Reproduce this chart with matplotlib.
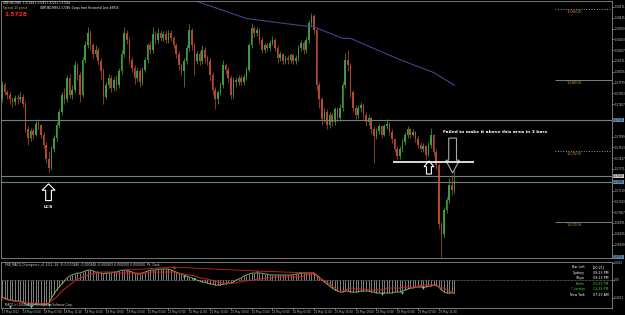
import numpy as np
import matplotlib
matplotlib.use('Agg')
import matplotlib.pyplot as plt
from matplotlib.patches import FancyArrow
import matplotlib.transforms as mtransforms

# GBPUSD M30 candles
opens = [1.5786,1.5796,1.5791,1.5789,1.5786,1.5784,1.5787,1.5786,1.5788,1.5783,
         1.5765,1.5759,1.5764,1.5761,1.5769,1.5768,1.5761,1.5754,1.5744,1.5738,
         1.5751,1.5759,1.5768,1.5777,1.5789,1.5786,1.5801,1.5789,1.5793,1.5810,
         1.5803,1.5789,1.5814,1.5824,1.5833,1.5824,1.5818,1.5821,1.5813,1.5806,
         1.5788,1.5796,1.5801,1.5794,1.5800,1.5796,1.5806,1.5818,1.5833,1.5828,
         1.5814,1.5808,1.5801,1.5806,1.5798,1.5807,1.5814,1.5824,1.5821,1.5832,
         1.5828,1.5833,1.5829,1.5832,1.5828,1.5833,1.5829,1.5824,1.5818,1.5810,
         1.5806,1.5813,1.5822,1.5835,1.5824,1.5813,1.5818,1.5813,1.5821,1.5815,
         1.5813,1.5803,1.5793,1.5786,1.5791,1.5796,1.5810,1.5807,1.5801,1.5789,
         1.5800,1.5798,1.5801,1.5798,1.5802,1.5807,1.5824,1.5836,1.5833,1.5835,
         1.5828,1.5821,1.5824,1.5822,1.5826,1.5828,1.5822,1.5815,1.5818,1.5813,
         1.5815,1.5814,1.5817,1.5813,1.5815,1.5822,1.5826,1.5821,1.5828,1.5840,
         1.5845,1.5835,1.5796,1.5786,1.5772,1.5777,1.5768,1.5775,1.5770,1.5779,
         1.5773,1.5780,1.5796,1.5814,1.5810,1.5791,1.5780,1.5775,1.5780,1.5782,
         1.5775,1.5770,1.5773,1.5765,1.5760,1.5764,1.5767,1.5761,1.5767,1.5769,
         1.5763,1.5758,1.5751,1.5746,1.5751,1.5756,1.5761,1.5765,1.5761,1.5763,
         1.5758,1.5754,1.5751,1.5753,1.5747,1.5754,1.5761,1.5749,1.5740,1.5698,
         1.5691,1.5708,1.5715,1.5726,1.5722]
highs = [1.5799,1.5798,1.5793,1.5791,1.5788,1.5789,1.5790,1.5791,1.5790,1.5785,
         1.5767,1.5766,1.5766,1.5771,1.5772,1.5769,1.5763,1.5756,1.5750,1.5753,
         1.5761,1.5770,1.5779,1.5791,1.5794,1.5803,1.5804,1.5796,1.5813,1.5812,
         1.5805,1.5816,1.5827,1.5837,1.5835,1.5826,1.5824,1.5823,1.5815,1.5808,
         1.5798,1.5804,1.5803,1.5802,1.5803,1.5808,1.5821,1.5837,1.5835,1.5830,
         1.5816,1.5810,1.5808,1.5808,1.5809,1.5816,1.5826,1.5827,1.5837,1.5834,
         1.5836,1.5835,1.5834,1.5834,1.5835,1.5835,1.5831,1.5826,1.5820,1.5812,
         1.5815,1.5824,1.5839,1.5836,1.5826,1.5820,1.5820,1.5824,1.5823,1.5817,
         1.5815,1.5805,1.5795,1.5793,1.5798,1.5814,1.5812,1.5809,1.5803,1.5802,
         1.5802,1.5803,1.5803,1.5804,1.5809,1.5826,1.5840,1.5838,1.5837,1.5836,
         1.5830,1.5826,1.5826,1.5828,1.5831,1.5829,1.5824,1.5820,1.5819,1.5817,
         1.5817,1.5819,1.5818,1.5817,1.5824,1.5828,1.5827,1.5830,1.5842,1.5847,
         1.5846,1.5837,1.5798,1.5788,1.5780,1.5779,1.5777,1.5777,1.5781,1.5781,
         1.5783,1.5798,1.5819,1.5821,1.5812,1.5793,1.5782,1.5782,1.5784,1.5783,
         1.5777,1.5775,1.5774,1.5767,1.5766,1.5769,1.5768,1.5769,1.5772,1.5770,
         1.5765,1.5759,1.5753,1.5753,1.5758,1.5763,1.5767,1.5766,1.5765,1.5764,
         1.5760,1.5756,1.5755,1.5754,1.5756,1.5766,1.5762,1.5751,1.5741,1.5700,
         1.5710,1.5717,1.5731,1.5733,1.5738]
lows = [1.5784,1.5789,1.5786,1.5783,1.5781,1.5782,1.5783,1.5784,1.5781,1.5763,
        1.5754,1.5757,1.5758,1.5760,1.5765,1.5759,1.5752,1.5741,1.5735,1.5736,
        1.5749,1.5757,1.5766,1.5775,1.5783,1.5784,1.5787,1.5786,1.5791,1.5800,
        1.5784,1.5788,1.5812,1.5822,1.5821,1.5815,1.5816,1.5810,1.5800,1.5783,
        1.5786,1.5794,1.5791,1.5792,1.5793,1.5794,1.5804,1.5816,1.5825,1.5811,
        1.5805,1.5797,1.5799,1.5795,1.5796,1.5805,1.5812,1.5818,1.5819,1.5825,
        1.5826,1.5827,1.5827,1.5826,1.5826,1.5827,1.5822,1.5815,1.5807,1.5803,
        1.5795,1.5811,1.5820,1.5821,1.5803,1.5811,1.5810,1.5811,1.5812,1.5810,
        1.5799,1.5789,1.5779,1.5783,1.5789,1.5794,1.5804,1.5798,1.5786,1.5787,
        1.5795,1.5796,1.5796,1.5796,1.5800,1.5805,1.5822,1.5830,1.5831,1.5825,
        1.5819,1.5819,1.5820,1.5820,1.5824,1.5820,1.5812,1.5813,1.5811,1.5811,
        1.5811,1.5812,1.5811,1.5811,1.5813,1.5820,1.5818,1.5819,1.5826,1.5838,
        1.5832,1.5793,1.5780,1.5768,1.5770,1.5765,1.5766,1.5767,1.5768,1.5770,
        1.5771,1.5778,1.5794,1.5806,1.5788,1.5777,1.5772,1.5773,1.5777,1.5772,
        1.5767,1.5768,1.5762,1.5741,1.5758,1.5762,1.5759,1.5760,1.5765,1.5761,
        1.5755,1.5749,1.5744,1.5744,1.5749,1.5754,1.5759,1.5759,1.5760,1.5756,
        1.5752,1.5749,1.5749,1.5744,1.5746,1.5752,1.5746,1.5737,1.5695,1.5675,
        1.5689,1.5706,1.5713,1.5719,1.5720]
closes = [1.5796,1.5791,1.5789,1.5786,1.5784,1.5787,1.5786,1.5788,1.5783,1.5765,
          1.5759,1.5764,1.5761,1.5769,1.5768,1.5761,1.5754,1.5744,1.5738,1.5751,
          1.5759,1.5768,1.5777,1.5789,1.5786,1.5801,1.5789,1.5793,1.5810,1.5803,
          1.5789,1.5814,1.5824,1.5833,1.5824,1.5818,1.5821,1.5813,1.5806,1.5788,
          1.5796,1.5801,1.5794,1.5800,1.5796,1.5806,1.5818,1.5833,1.5828,1.5814,
          1.5808,1.5801,1.5806,1.5798,1.5807,1.5814,1.5824,1.5821,1.5832,1.5828,
          1.5833,1.5829,1.5832,1.5828,1.5833,1.5829,1.5824,1.5818,1.5810,1.5806,
          1.5813,1.5822,1.5835,1.5824,1.5813,1.5818,1.5813,1.5821,1.5815,1.5813,
          1.5803,1.5793,1.5786,1.5791,1.5796,1.5810,1.5807,1.5801,1.5789,1.5800,
          1.5798,1.5801,1.5798,1.5802,1.5807,1.5824,1.5836,1.5833,1.5835,1.5828,
          1.5821,1.5824,1.5822,1.5826,1.5828,1.5822,1.5815,1.5818,1.5813,1.5815,
          1.5814,1.5817,1.5813,1.5815,1.5822,1.5826,1.5821,1.5828,1.5840,1.5845,
          1.5835,1.5796,1.5786,1.5772,1.5777,1.5768,1.5775,1.5770,1.5779,1.5773,
          1.5780,1.5796,1.5814,1.5810,1.5791,1.5780,1.5775,1.5780,1.5782,1.5775,
          1.5770,1.5773,1.5765,1.5760,1.5764,1.5767,1.5761,1.5767,1.5769,1.5763,
          1.5758,1.5751,1.5746,1.5751,1.5756,1.5761,1.5765,1.5761,1.5763,1.5758,
          1.5754,1.5751,1.5753,1.5747,1.5754,1.5761,1.5749,1.5740,1.5698,1.5691,
          1.5708,1.5715,1.5726,1.5722,1.5728]

# slow moving average (blue line), read at a few bars
ma_bars = [60, 75, 94, 115, 120, 131, 134, 153, 166, 174]
ma_vals = [1.5867, 1.5855, 1.5843, 1.5838, 1.5837, 1.5829, 1.5829, 1.5814, 1.5805, 1.5796]

# MACD main / signal in points (1e-5)
macd_pts = [-124,-131,-138,-145,-145,-152,-152,-152,-159,-173,-180,-180,-180,-173,-173,-173,-180,-173,-166,
            -131,-102,-74,-53,-32,-11,11,25,32,39,
            46,46,53,60,67,67,60,53,53,46,
            39,46,46,46,53,53,60,67,67,67,
            60,53,46,39,39,46,53,60,67,67,
            67,74,74,74,74,74,67,60,53,46,
            39,32,25,18,11,4,-4,-11,-18,-18,
            -25,-32,-32,-39,-39,-39,-32,-32,-25,-25,
            -18,-4,4,11,25,32,39,46,46,46,
            46,46,39,39,32,32,32,32,32,32,
            32,32,32,32,39,39,46,46,46,46,
            46,46,32,18,-4,-18,-32,-46,-60,-74,
            -81,-88,-88,-81,-81,-88,-88,-88,-88,-81,
            -81,-81,-81,-88,-88,-95,-95,-95,-95,-95,
            -95,-95,-88,-88,-88,-81,-74,-67,-60,-60,
            -53,-53,-53,-53,-53,-46,-46,-39,-39,-53,
            -74,-88,-95,-95,-95,-95]
signal_pts = [-138,-138,-145,-145,-152,-152,-152,-159,-159,-159,
              -166,-166,-166,-166,-173,-173,-173,-173,-166,
              -152,-138,-124,-102,-81,-67,-53,-39,-25,-11,
              4,11,18,25,32,39,39,46,46,53,
              53,53,53,53,53,46,46,46,46,46,
              46,46,46,46,46,46,46,46,53,53,
              53,53,53,53,53,53,53,53,46,46,
              39,39,32,32,32,25,18,11,11,4,
              4,-4,-4,-11,-18,-18,-25,-25,-25,-25,
              -25,-25,-18,-18,-11,-11,-4,-4,-4,4,
              4,4,11,11,11,11,18,18,18,18,
              18,18,18,18,18,18,18,25,32,32,
              39,39,25,11,4,-11,-18,-32,-46,-60,
              -74,-88,-81,-74,-67,-60,-60,-67,-67,-67,
              -67,-67,-74,-74,-74,-74,-74,-74,-74,-60,
              -60,-60,-60,-60,-60,-53,-53,-53,-53,-53,
              -53,-53,-39,-39,-39,-39,-39,-39,-46,-53,
              -60,-60,-74,-81,-88,-95]
peak_bars = [16, 48, 66, 98, 120, 161, 165]
peak_pts = [-159, 67, 88, 60, 46, -39, -32]
trough_bars = [3, 11, 18, 70, 74, 146, 154, 162]
trough_pts = [-194, -194, -180, 18, 4, -102, -95, -60]
div_bars = [48, 66, 98, 120]
div_pts = [67, 88, 60, 46]

full_lines = [1.57715, 1.57320, 1.57280]
round_levels = [1.5850, 1.5800, 1.5750, 1.5700]
round_styles = [':', '-', ':', '-']
zone_price = 1.5742

time_labels = ["17 May 2012", "18 May 03:00", "18 May 07:00", "18 May 11:00", "18 May 15:00",
               "18 May 19:00", "18 May 23:00", "21 May 03:00", "21 May 07:00", "21 May 11:00",
               "21 May 15:00", "21 May 19:00", "21 May 23:00", "22 May 03:00", "22 May 07:00",
               "22 May 11:00", "22 May 15:00", "22 May 19:00", "22 May 23:00", "23 May 03:00",
               "23 May 07:00", "23 May 11:00"]

clock_names = ["Bar Left", "Sydney", "Tokyo", "Berlin", "* London", "New York"]
clock_times = ["[00:21]", "09:23 PM", "09:23 PM", "01:23 PM", "12:23 PM", "07:23 AM"]
clock_cols = ['white', 'white', 'white', '#3fd23f', '#3fd23f', 'white']

W, H = 625, 315
def fx(px):
    return px / W
def fy(py):
    return 1 - py / H

bars = np.arange(len(closes))
o = np.array(opens); h = np.array(highs); l = np.array(lows); c = np.array(closes)
grid = '#6f8282'
marked = [(1.57715, '#5a8fb8'), (1.57320, '#c8c8c8'), (1.57280, '#5a8fb8'), (1.56750, '#5a8fb8')]

fig = plt.figure(figsize=(6.25, 3.15), dpi=100, facecolor='black')
ax = fig.add_axes([fx(1), fy(258), fx(611), 257 / H])
ax2 = fig.add_axes([fx(1), fy(308), fx(611), 46 / H])
for a in (ax, ax2):
    a.set_facecolor('black')
    for s in a.spines.values():
        s.set_color('#8a8a8a')
        s.set_linewidth(0.6)
    a.set_xlim(-0.385, 234.6)

# main chart
ax.set_ylim(1.56744, 1.58553)
col = np.where(c >= o, '#3d9a3d', '#b4472c')
ax.vlines(bars, l, h, colors=col, lw=0.55)
ax.bar(bars, np.maximum(np.abs(c - o), 0.00004), bottom=np.minimum(o, c),
       width=0.62, color=col, lw=0)
ax.plot(ma_bars, ma_vals, color='#43438f', lw=0.8)
for lv in full_lines:
    ax.axhline(lv, color=grid, lw=0.8)
for lv, ls in zip(round_levels, round_styles):
    ax.hlines(lv, 212.5, 234.6, colors=grid if ls == '-' else '#9a9a9a', linestyles=ls, lw=0.7)
    ax.text(217, lv - 0.0001, '%.5f' % lv, color='#d08a2a', fontsize=2.6, va='top', ha='left')

# annotations
ax.hlines(zone_price, 150.5, 181.5, colors='white', lw=1.2)
ax.add_patch(FancyArrow(17.9, 1.57148, 0, 0.00118, width=2.2, head_width=5.0,
                        head_length=0.00045, length_includes_head=True,
                        fc='black', ec='white', lw=0.8))
ax.text(17.9, 1.5712, 'LCS', color='white', fontsize=3.2, fontweight='bold', ha='center', va='top')
ax.add_patch(FancyArrow(164.2, 1.57335, 0, 0.00092, width=1.9, head_width=3.8,
                        head_length=0.0004, length_includes_head=True,
                        fc='black', ec='white', lw=0.8))
ax.add_patch(FancyArrow(173.3, 1.57588, 0, -0.00246, width=3.0, head_width=5.2,
                        head_length=0.0009, length_includes_head=True,
                        fc='black', ec='#a8a8a8', lw=0.8))
ax.text(169.6, 1.5762, 'Failed to make it above this area in 3 bars', color='white',
        fontsize=3.2, fontweight='bold', ha='left', va='bottom')

# price scale on the right (skip ticks hidden under the line labels)
ticks = [t for t in np.arange(1.58511, 1.5678, -0.00076)
         if min(abs(t - m[0]) for m in marked) > 0.00045]
ax.yaxis.tick_right()
ax.set_yticks(ticks)
ax.set_yticklabels(['%.5f' % t for t in ticks])
ax.tick_params(axis='y', colors='#c8c8c8', labelsize=1.9, length=1.2, width=0.4, pad=0.5)
ax.set_xticks([])
tr = mtransforms.blended_transform_factory(ax.transAxes, ax.transData)
for lv, fc in marked:
    ax.text(1.0015, lv, '%.5f' % lv, transform=tr, fontsize=1.9, color='black', va='center', ha='left',
            bbox=dict(boxstyle='square,pad=0.12', fc=fc, ec='none'), clip_on=False)

# header texts
fig.text(fx(3), fy(3), 'GBPUSD,M30  1.57244 1.57281 1.57211 1.57262', color='white', fontsize=2.0, va='center')
fig.text(fx(3), fy(8), 'Spread: 20 points', color='#e0b040', fontsize=2.0, va='center')
fig.text(fx(40), fy(8), 'GBPUSD,M30,1.57280: 0 pips from Horizontal Line #9916', color='white',
         fontsize=2.0, va='center')
fig.text(fx(4), fy(14), '1.5728', color='#ff2020', fontsize=4.2, fontweight='bold', va='center')

# MACD panel
ax2.set_ylim(-201, 124)
ax2.vlines(bars, 0, macd_pts, colors='#c8c8c8', lw=0.45)
ax2.axhline(0, color='#9a9a9a', lw=0.5, ls=(0, (1, 1)))
ax2.plot(bars, macd_pts, color='#8fc060', lw=0.6)
ax2.plot(bars, signal_pts, color='#d42020', lw=0.7)
ax2.plot(div_bars, div_pts, color='#d42020', lw=0.6)
ax2.plot(peak_bars, peak_pts, ls='none', marker='^', ms=2.0, color='#ff3030', mew=0)
ax2.plot(trough_bars, trough_pts, ls='none', marker='v', ms=2.0, color='#40e0d0', mew=0)
ax2.text(1, 115, 'FXB_MACD_Divergence_v1.6(12, 26, 9) 0.000486 -0.000848 -0.000903 0.000000 0.000000  Pk. Dark',
         color='#d0d0d0', fontsize=2.2, va='top')
ax2.text(1, -196, 'MACD (c) 2001-2012, MetaQuotes Software Corp.', color='#d0d0d0', fontsize=2.0, va='bottom')
ax2.yaxis.tick_right()
ax2.set_yticks([120, 0, -130])
ax2.set_yticklabels(['0.0012', '0.00', '-0.0013'])
ax2.tick_params(axis='y', colors='#c8c8c8', labelsize=1.9, length=1.2, width=0.4, pad=0.5)
for k, (nm, tm, cc) in enumerate(zip(clock_names, clock_times, clock_cols)):
    fig.text(fx(585), fy(267 + 5.6 * k), nm, color=cc, fontsize=2.3, ha='right', va='center')
    fig.text(fx(593), fy(267 + 5.6 * k), tm, color=cc, fontsize=2.3, ha='left', va='center')

ax2.set_xticks(np.arange(len(time_labels)) * 8)
ax2.set_xticklabels(time_labels)
ax2.tick_params(axis='x', colors='#c8c8c8', labelsize=1.9, length=1.2, width=0.4, pad=0.6)
for t in ax2.get_xticklabels():
    t.set_ha('left')

fig.savefig('out.png', dpi=100, facecolor='black')
